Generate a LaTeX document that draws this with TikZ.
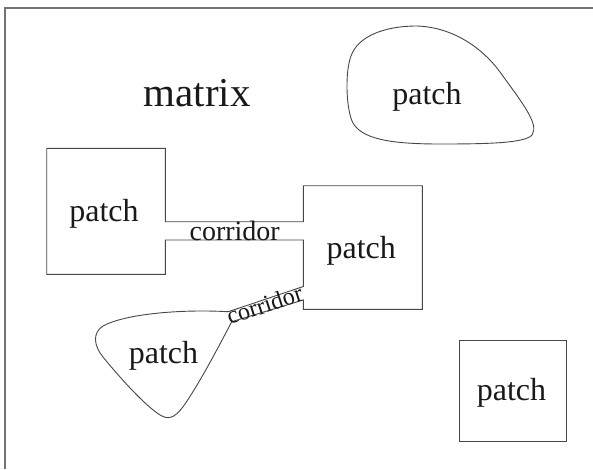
\documentclass[tikz,border=0pt]{standalone}
\usepackage{fontspec}
\setmainfont{Liberation Serif}
\begin{document}
\begin{tikzpicture}[x=1pt,y=-1pt,
  outline/.style={draw=black!72,line width=0.9pt,line join=miter},
  frameline/.style={draw=black!55,line width=1.8pt},
  lbl/.style={inner sep=0pt,anchor=base,text=black!90},
  patchlbl/.style={lbl,font=\fontsize{32}{36}\selectfont},
  corrlbl/.style={lbl,font=\fontsize{28}{32}\selectfont}]
\useasboundingbox (0,0) rectangle (593,469);
% frame edges
\draw[frameline] (4.7,469) -- (4.7,8) -- (593,8);
% two square patches joined by a straight corridor, plus the corridor to the lobe
\draw[outline] (165.3,221.7) -- (165.3,148.3) -- (46.7,148.3) -- (46.7,274.3)
  -- (165.3,274.3) -- (165.3,240) -- (303.3,240) -- (303.3,286.5)
  -- (228.3,311.7)
  .. controls (180,309) and (125,314) .. (103,326)
  .. controls (92,333) and (94,346) .. (103,357)
  .. controls (125,384) and (150,410) .. (162,416)
  .. controls (171,421) and (178,414) .. (185,404)
  .. controls (200,382) and (218,348) .. (231.7,321.7)
  -- (303.3,300) -- (303.3,309.3) -- (422.3,309.3) -- (422.3,185.7)
  -- (303.3,185.7) -- (303.3,221.7) -- cycle;
% free-form patch at the top
\draw[outline] (416.7,26) .. controls (450,27) and (480,45) .. (500,72)
  .. controls (520,100) and (540,124) .. (532,135)
  .. controls (525,143) and (490,144) .. (440,144)
  .. controls (390,144) and (360,139) .. (352,121)
  .. controls (346,106) and (345,72) .. (351,56)
  .. controls (358,36) and (385,26) .. (416.7,26) -- cycle;
% isolated square patch
\draw[outline] (459,340.7) rectangle (566.7,441);
% labels
\node[lbl,font=\fontsize{41}{46}\selectfont] (matrixlbl) at (197.3,106.7) {matrix};
\node[patchlbl] (patchtop) at (427,104) {patch};
\node[patchlbl] (patchleft) at (104,221) {patch};
\node[patchlbl] (patchmid) at (361.2,258.3) {patch};
\node[patchlbl] (patchlobe) at (163.5,363) {patch};
\node[patchlbl] (patchcorner) at (511.5,400) {patch};
\node[corrlbl] (corridorA) at (234.7,240) {corridor};
\node[lbl,font=\fontsize{24.3}{28}\selectfont,rotate=18] (corridorB) at (267,312.5) {corridor};
\end{tikzpicture}
\end{document}
